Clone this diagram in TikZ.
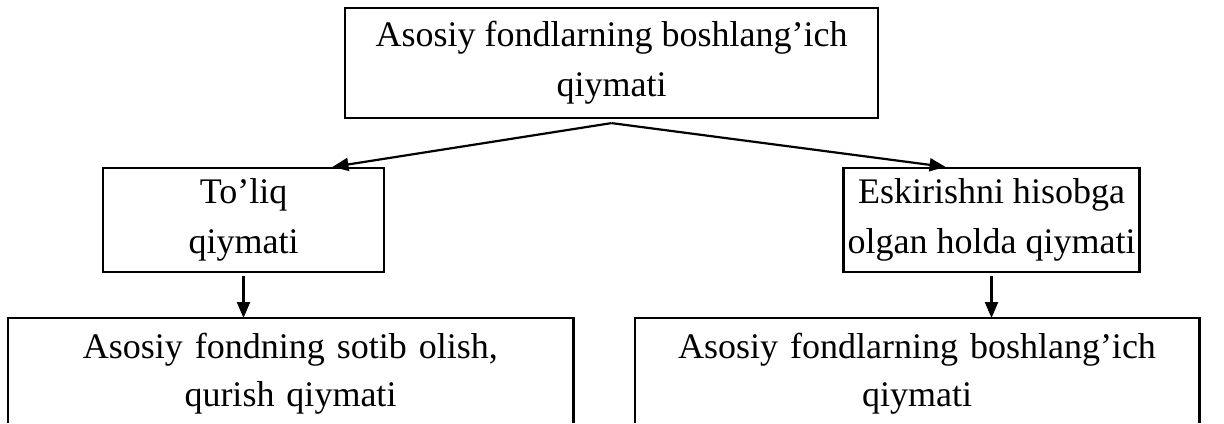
\documentclass[tikz,border=0pt]{standalone}
\usepackage{fontspec}
\setmainfont{Liberation Serif}
\usetikzlibrary{arrows.meta}

\tikzset{
  box/.style={draw, line width=1.1pt, align=center, inner sep=0pt,
    font=\fontsize{18}{25}\selectfont},
  lowbox/.style={align=center, anchor=north, inner xsep=0pt, inner ysep=7.5pt,
    font=\fontsize{18}{24}\selectfont},
  arr/.style={line width=1.1pt, -{Triangle[length=8pt,width=6.5pt]}}
}

\begin{document}
\begin{tikzpicture}[x=0.5pt,y=-0.5pt]
    \useasboundingbox (0,0) rectangle (1224,423);

    % Yuqori blok
    \node[box, minimum width=266.5pt, minimum height=55pt] (top) at (611.5,63)
        {Asosiy fondlarning boshlang’ich\\qiymati};

    % O'rta bloklar
    \node[box, minimum width=140.5pt, minimum height=52pt] (full) at (243.5,220)
        {To’liq\\qiymati};
    \node[box, minimum width=148pt, minimum height=52pt] (worn) at (991.5,220)
        {Eskirishni hisobga\\olgan holda qiymati};

    % Pastki bloklar (pastki chizig'i sahifadan tashqarida)
    \coordinate (pagebottom) at (0,423);
    \node[lowbox, text width=282.5pt] (buy) at (290.5,318)
        {Asosiy fondning sotib olish,\\qurish qiymati};
    \node[lowbox, text width=282pt] (init) at (917,318)
        {Asosiy fondlarning boshlang’ich\\qiymati};
    \foreach \b in {buy, init} {
            \draw[line width=1.1pt] (\b.north west |- pagebottom) -- (\b.north west)
                -- (\b.north east) -- (\b.north east |- pagebottom);
        }

    % Strelkalar
    \draw[arr] ([yshift=-2pt]top.south) -- ([xshift=44.5pt]full.north);
    \draw[arr] ([yshift=-2pt]top.south) -- ([xshift=-23pt]worn.north);
    \draw[arr] ([yshift=-1.5pt]full.south) -- (full.south |- buy.north);
    \draw[arr] ([yshift=-1.5pt]worn.south) -- (worn.south |- init.north);
\end{tikzpicture}
\end{document}
